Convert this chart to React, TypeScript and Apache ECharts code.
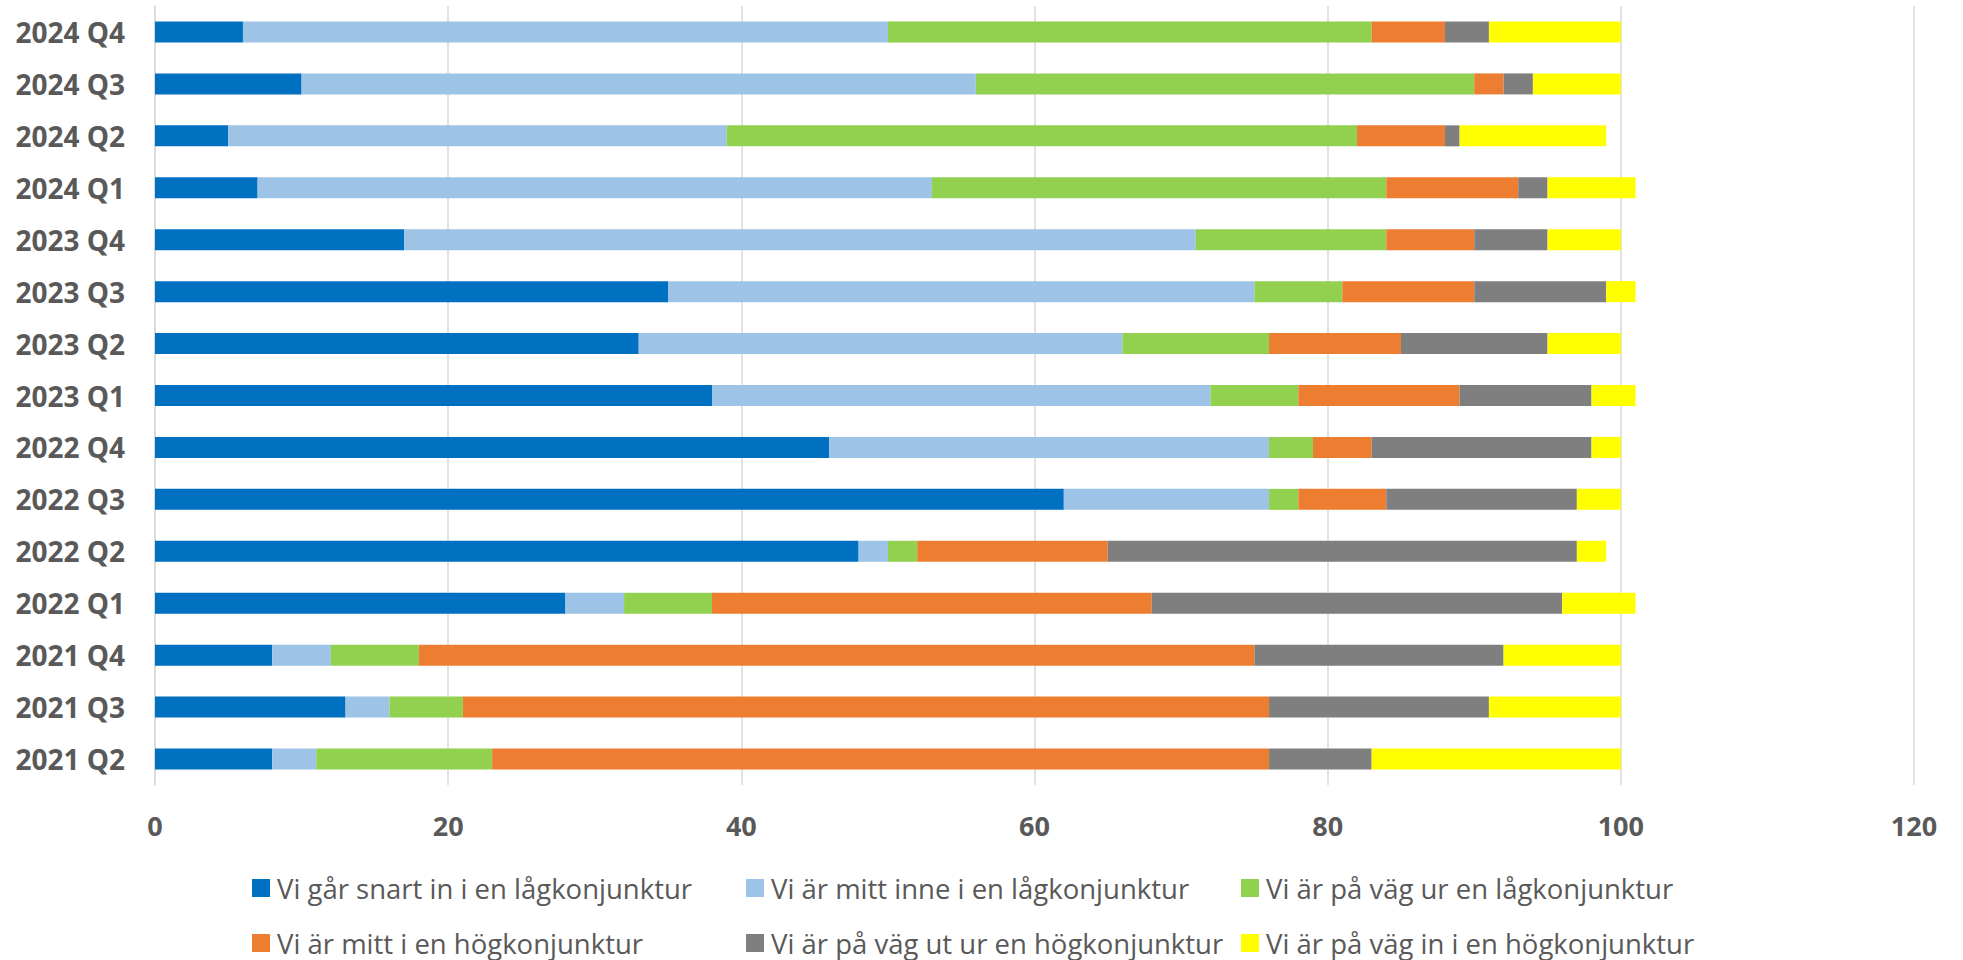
import React, { useEffect, useRef } from "react";
import * as echarts from "echarts";

const categories = [
  "2021 Q2", "2021 Q3", "2021 Q4", "2022 Q1", "2022 Q2", "2022 Q3", "2022 Q4",
  "2023 Q1", "2023 Q2", "2023 Q3", "2023 Q4", "2024 Q1", "2024 Q2", "2024 Q3", "2024 Q4",
];

const seriesNames = [
  "Vi går snart in i en lågkonjunktur",
  "Vi är mitt inne i en lågkonjunktur",
  "Vi är på väg ur en lågkonjunktur",
  "Vi är mitt i en högkonjunktur",
  "Vi är på väg ut ur en högkonjunktur",
  "Vi är på väg in i en högkonjunktur",
];

const snartInLag = [8, 13, 8, 28, 48, 62, 46, 38, 33, 35, 17, 7, 5, 10, 6];
const mittInneLag = [3, 3, 4, 4, 2, 14, 30, 34, 33, 40, 54, 46, 34, 46, 44];
const vagUrLag = [12, 5, 6, 6, 2, 2, 3, 6, 10, 6, 13, 31, 43, 34, 33];
const mittHog = [53, 55, 57, 30, 13, 6, 4, 11, 9, 9, 6, 9, 6, 2, 5];
const vagUtHog = [7, 15, 17, 28, 32, 13, 15, 9, 10, 9, 5, 2, 1, 2, 3];
const vagInHog = [17, 9, 8, 5, 2, 3, 2, 3, 5, 2, 5, 6, 10, 6, 9];

const xTicks = { min: 0, max: 120, interval: 20 };

const colors = ["#0070C0", "#9DC3E6", "#92D050", "#ED7D31", "#7F7F7F", "#FFFF00"];

export default function App() {
  const ref = useRef<HTMLDivElement>(null);
  useEffect(() => {
    document.body.style.margin = "0";
    if (!ref.current) return;
    const chart = echarts.init(ref.current, undefined, { renderer: "svg" });
    const values = [snartInLag, mittInneLag, vagUrLag, mittHog, vagUtHog, vagInHog];
    const colLeft = [252, 746, 1241];
    const rowTop = [873, 928];
    const legends = seriesNames.map((name, i) => ({
      orient: "horizontal" as const,
      left: colLeft[i % 3],
      top: rowTop[Math.floor(i / 3)],
      padding: 0,
      itemWidth: 18,
      itemHeight: 18,
      icon: "rect",
      data: [name],
      textStyle: {
        fontFamily: "Open Sans",
        fontSize: 27.5,
        color: "#595959",
        lineHeight: 30,
        padding: [0, 0, 0, 2],
      },
    }));
    chart.setOption({
      animation: false,
      color: colors,
      grid: { left: 155, right: 49, top: 6, bottom: 175, containLabel: false },
      legend: legends,
      xAxis: {
        type: "value",
        min: xTicks.min,
        max: xTicks.max,
        interval: xTicks.interval,
        axisLine: { show: false },
        axisTick: { show: false },
        splitLine: { show: true, lineStyle: { color: "#d9d9d9", width: 1.5 } },
        axisLabel: {
          fontFamily: "Open Sans",
          fontWeight: "bold",
          fontSize: 27,
          color: "#595959",
          margin: 27,
        },
      },
      yAxis: {
        type: "category",
        data: categories,
        axisLine: { show: true, lineStyle: { color: "#d9d9d9", width: 1.5 } },
        axisTick: { show: false },
        axisLabel: {
          fontFamily: "Open Sans",
          fontWeight: "bold",
          fontSize: 28,
          color: "#595959",
          margin: 30,
        },
      },
      series: seriesNames.map((name, i) => ({
        name,
        type: "bar",
        stack: "total",
        barWidth: 21,
        data: values[i],
        itemStyle: { color: colors[i] },
      })),
    });
    return () => chart.dispose();
  }, []);
  return <div ref={ref} style={{ width: 1963, height: 960 }} />;
}
